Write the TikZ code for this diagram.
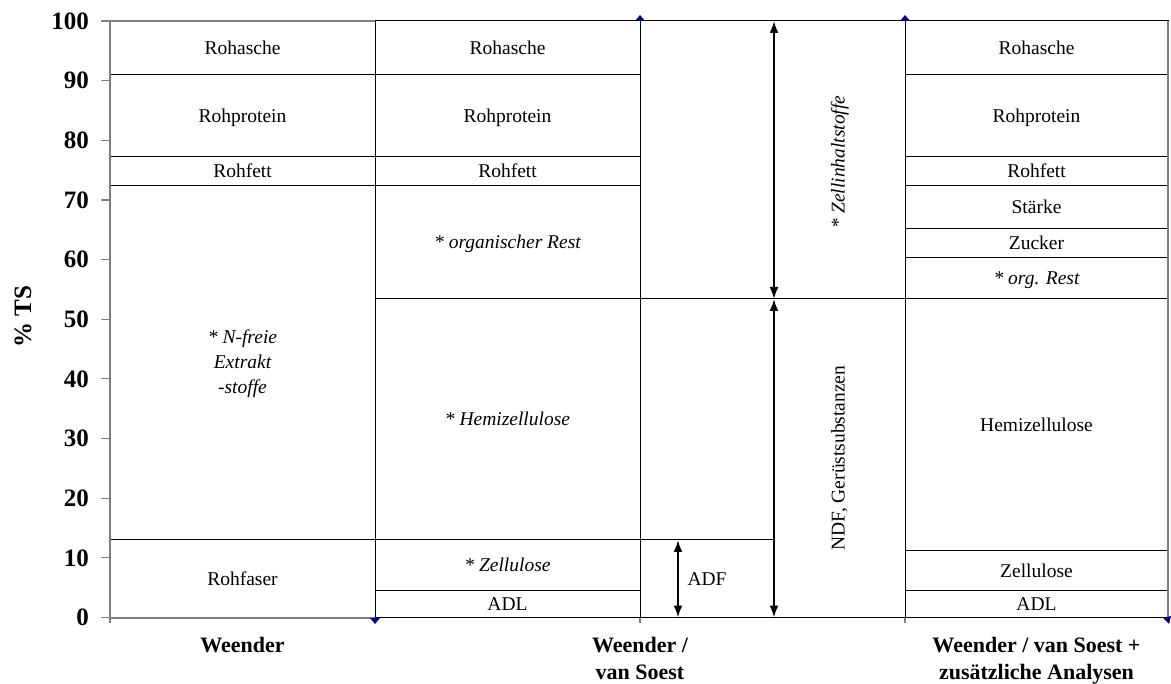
\documentclass[tikz,border=0pt]{standalone}
\usepackage{fontspec}
\setmainfont{Liberation Serif}
\usetikzlibrary{arrows.meta}
\definecolor{navymk}{RGB}{0,0,140}
\definecolor{axisgray}{RGB}{128,128,128}
\begin{document}
\begin{tikzpicture}[x=1pt,y=-1pt,
  cell/.style={draw=black,line width=1pt},
  lbl/.style={inner sep=0pt,text height=13pt,text depth=0pt,font=\fontsize{19.5}{23}\selectfont},
  ilbl/.style={inner sep=0pt,text height=13pt,text depth=0pt,font=\fontsize{19.5}{23}\selectfont\itshape},
  multi/.style={inner sep=0pt,align=center,font=\fontsize{19.5}{25}\selectfont\itshape},
  ticks/.style={draw=axisgray,line width=1.2pt},
  axisline/.style={draw=axisgray,line width=2pt},
  tlab/.style={anchor=east,inner sep=0pt,font=\fontsize{25}{30}\selectfont\bfseries},
  cat/.style={align=center,inner sep=0pt,font=\fontsize{22}{27}\selectfont\bfseries},
  dimarrow/.style={line width=2pt,{Latex[length=12pt,width=9pt]}-{Latex[length=12pt,width=9pt]}},
  bluemk/.style={fill=navymk}
]
\useasboundingbox (0,0) rectangle (1171,684);
% ---------- column 1 (Weender)
\draw[cell] (110,21) rectangle (375,75);
\draw[cell] (110,75) rectangle (375,157);
\draw[cell] (110,157) rectangle (375,186);
\draw[cell] (110,186) rectangle (375,540);
\draw[cell] (110,540) rectangle (375,617.5);
% ---------- column 2
\draw[cell] (375,21) rectangle (640,75);
\draw[cell] (375,75) rectangle (640,157);
\draw[cell] (375,157) rectangle (640,186);
\draw[cell] (375,186) rectangle (640,299);
\draw[cell] (375,299) rectangle (640,540);
\draw[cell] (375,540) rectangle (640,590);
\draw[cell] (375,590) rectangle (640,617.5);
% ---------- column 3
\draw[cell] (640,21) rectangle (905,617.5);
\draw[cell] (640,299) -- (905,299);
\draw[cell] (640,540) -- (774,540);
% ---------- column 4
\draw[cell] (905,21) rectangle (1168,75);
\draw[cell] (905,75) rectangle (1168,157);
\draw[cell] (905,157) rectangle (1168,186);
\draw[cell] (905,186) rectangle (1168,229);
\draw[cell] (905,229) rectangle (1168,258);
\draw[cell] (905,258) rectangle (1168,299);
\draw[cell] (905,299) rectangle (1168,551);
\draw[cell] (905,551) rectangle (1168,590);
\draw[cell] (905,590) rectangle (1168,617.5);
% ---------- axes
\draw[axisline] (110,21) -- (375,21);
\draw[axisline] (110,617.5) -- (375,617.5);
\draw[axisline] (110,20) -- (110,618.5);
\draw[axisline] (1168,21) -- (1168,617.5);
\foreach \v in {0,10,...,100}{
  \pgfmathsetmacro{\py}{617.5-5.965*\v}
  \draw[ticks] (101,\py) -- (110,\py);
  \node[tlab] (t\v) at (89,\py) {\v};
}
\foreach \px in {110,640,905}{
  \draw[ticks] (\px,617.5) -- (\px,623);
}
% ---------- blue markers
\fill[bluemk] (635,21) -- (640,15) -- (645,21) -- cycle;
\fill[bluemk] (900,21) -- (905,15) -- (910,21) -- cycle;
\fill[bluemk] (370,618) -- (375,624) -- (380,618) -- cycle;
\fill[bluemk] (1163,618) -- (1169,624) -- (1171,616) -- cycle;
% ---------- labels column 1
\node[lbl] (a1) at (242.5,48) {Rohasche};
\node[lbl] (p1) at (242.5,116) {Rohprotein};
\node[lbl] (f1) at (242.5,171.5) {Rohfett};
\node[multi] (n1) at (242.5,364) {* N-freie\\Extrakt\\-stoffe};
\node[lbl] (r1) at (242.5,578.5) {Rohfaser};
% ---------- labels column 2
\node[lbl] (a2) at (507.5,48) {Rohasche};
\node[lbl] (p2) at (507.5,116) {Rohprotein};
\node[lbl] (f2) at (507.5,171.5) {Rohfett};
\node[ilbl] (o2) at (507.5,242.5) {* organischer Rest};
\node[ilbl] (h2) at (507.5,419.5) {* Hemizellulose};
\node[ilbl] (z2) at (507.5,565) {* Zellulose};
\node[lbl] (l2) at (507.5,603.5) {ADL};
% ---------- column 3 arrows and labels
\coordinate (zt) at (774,21);
\coordinate (zb) at (774,299);
\coordinate (nt) at (774,299);
\coordinate (nb) at (774,617.5);
\coordinate (at) at (678,540);
\coordinate (ab) at (678,617.5);
\draw[dimarrow] (zt) -- (zb);
\draw[dimarrow] (nt) -- (nb);
\draw[dimarrow] (at) -- (ab);
\node[ilbl,rotate=90] (zi) at (838,162) {* Zellinhaltstoffe};
\node[lbl,rotate=90] (ndf) at (838,458) {NDF, Gerüstsubstanzen};
\node[lbl] (adf) at (707,578.5) {ADF};
% ---------- labels column 4
\node[lbl] (a4) at (1036.5,48) {Rohasche};
\node[lbl] (p4) at (1036.5,116) {Rohprotein};
\node[lbl] (f4) at (1036.5,171.5) {Rohfett};
\node[lbl] (s4) at (1036.5,207.5) {Stärke};
\node[lbl] (u4) at (1036.5,243.5) {Zucker};
\node[ilbl] (o4) at (1036.5,278.5) {* org. Rest};
\node[lbl] (h4) at (1036.5,425) {Hemizellulose};
\node[lbl] (z4) at (1036.5,570.5) {Zellulose};
\node[lbl] (l4) at (1036.5,603.5) {ADL};
% ---------- axis titles
\node[cat,rotate=90] (yt) at (23,317) {\fontsize{25}{30}\selectfont \% TS};
\node[cat,anchor=base] (c1) at (242.5,652) {Weender};
\node[cat,anchor=base] (c2) at (640,679) {Weender /\\van Soest};
\node[cat,anchor=base] (c3) at (1036.5,679) {Weender / van Soest +\\zusätzliche Analysen};
\end{tikzpicture}
\end{document}
